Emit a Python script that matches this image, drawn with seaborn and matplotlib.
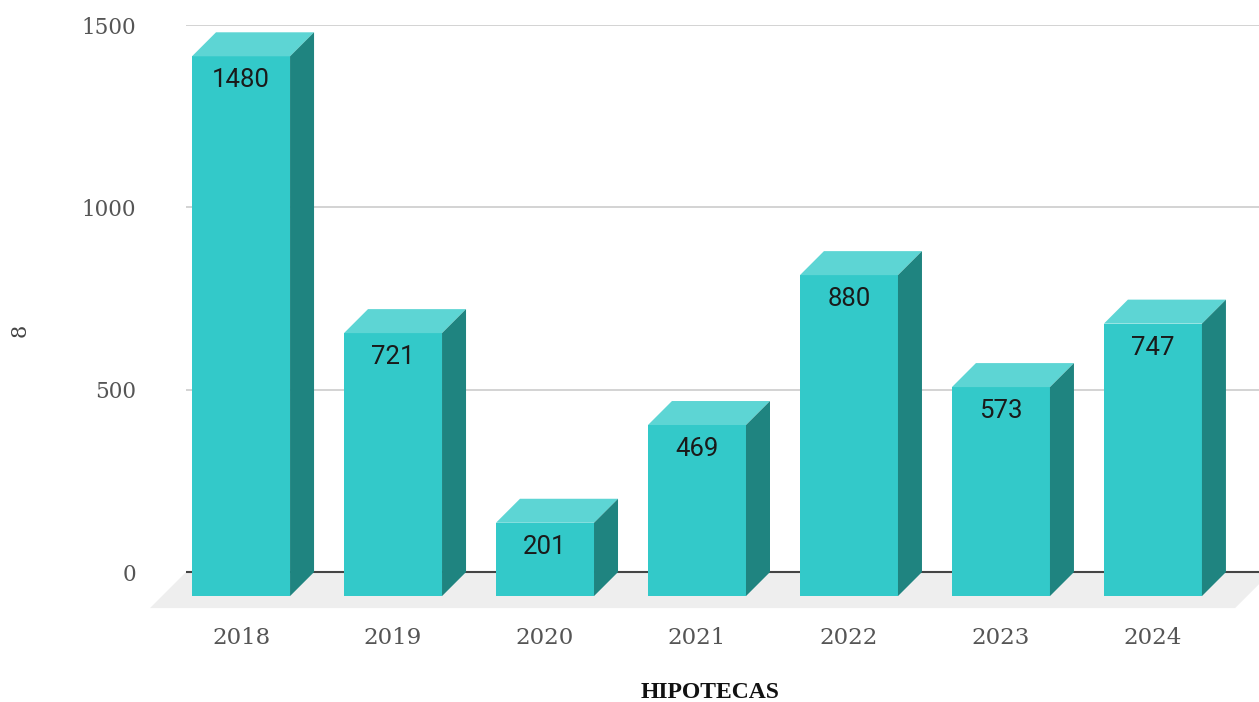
import numpy as np
import pandas as pd
import matplotlib
matplotlib.use("Agg")
import matplotlib.pyplot as plt
import matplotlib.transforms as mtransforms
from matplotlib.patches import Polygon
import seaborn as sns

# datos
years = ["2018", "2019", "2020", "2021", "2022", "2023", "2024"]
hipotecas = [1480, 721, 201, 469, 880, 573, 747]
y_ticks = [0, 500, 1000, 1500]

front_col = "#33C9C9"
top_col = "#5DD5D4"
side_col = "#1F8480"

df = pd.DataFrame({"year": years, "value": hipotecas})

sns.set_style("white")
fig = plt.figure(figsize=(12.59, 7.02), dpi=100)
W, H = 1259, 702
ax = fig.add_axes([186 / W, (H - 610) / H, (W - 186) / W, (610 - 25) / H])

sns.barplot(data=df, x="year", y="value", color=front_col, width=0.645,
            saturation=1, ax=ax, zorder=3, linewidth=0)

ax.set_xlim(-0.52, 6.54)
ax.set_ylim(-104, 1500)

# profundidad 3D (24 px)
px_x = (W - 186) / (6.54 + 0.52)
px_y = (610 - 25) / (1500 + 104)
dx = 24 / px_x
dy = 24 / px_y

# suelo
fdx = 36 / px_x
fdy = 36 / px_y
floor = Polygon([(-0.52, 0), (6.62, 0), (6.62 - fdx, -fdy), (-0.52 - fdx, -fdy)],
                closed=True, facecolor="#EEEEEE", edgecolor="none", zorder=0.3,
                clip_on=False)
ax.add_patch(floor)
ax.axhline(0, color="#444444", lw=1.5, zorder=0.8)

for p, v in zip(ax.patches[:len(years)], hipotecas):
    x0 = p.get_x()
    x1 = x0 + p.get_width()
    # cara frontal desplazada
    p.set_x(x0 - dx)
    p.set_y(-dy)
    p.set_height(v)
    top = Polygon([(x0 - dx, v - dy), (x1 - dx, v - dy), (x1, v), (x0, v)],
                  closed=True, facecolor=top_col, edgecolor="none", zorder=3)
    side = Polygon([(x1 - dx, -dy), (x1, 0), (x1, v), (x1 - dx, v - dy)],
                   closed=True, facecolor=side_col, edgecolor="none", zorder=3)
    ax.add_patch(top)
    ax.add_patch(side)
    ax.text((x0 + x1) / 2 - dx, v - 2 * dy, str(v), ha="center", va="center",
            fontsize=18.5, color="#1a1a1a", family="Roboto", zorder=4)

ax.set_yticks(y_ticks)
ax.yaxis.grid(True, color="#CCCCCC", lw=1.2)
ax.xaxis.grid(False)
ax.set_axisbelow(True)
for s in ax.spines.values():
    s.set_visible(False)

ax.tick_params(axis="both", length=0)
ax.tick_params(axis="y", pad=36, labelsize=15.5, labelcolor="#555555")
ax.tick_params(axis="x", pad=12, labelsize=16.5, labelcolor="#555555")
for lab in ax.get_yticklabels() + ax.get_xticklabels():
    lab.set_family("DejaVu Serif")
shift = mtransforms.ScaledTranslation(-0.24, 0, fig.dpi_scale_trans)
for lab in ax.get_xticklabels():
    lab.set_transform(lab.get_transform() + shift)

ax.set_xlabel("")
ax.set_ylabel("")
fig.text(20 / W, 1 - 330 / H, "8", rotation=90, ha="center", va="center",
         fontsize=15, color="#444444", family="DejaVu Serif")
fig.text(710 / W, 1 - 692 / H, "HIPOTECAS", ha="center", va="center",
         fontsize=17, fontweight="bold", color="#111111", family="Liberation Serif")

fig.savefig("out.png", dpi=100)
